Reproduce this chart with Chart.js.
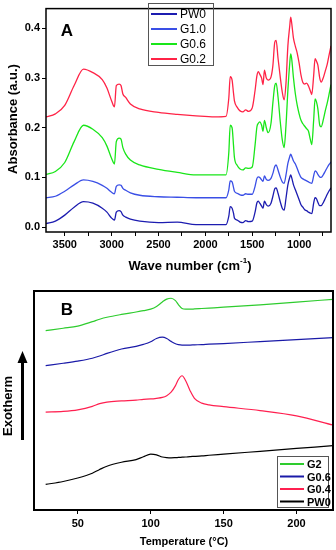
<!DOCTYPE html>
<html>
<head>
  <meta charset="UTF-8" />
  <title>FTIR and DSC</title>
  <script src="https://cdn.jsdelivr.net/npm/chart.js"></script>
  <style>
    body { margin: 0; background: #fff; width: 336px; height: 550px; overflow: hidden; position: relative; }
    .panel { position: absolute; left: 0; width: 336px; }
  </style>
</head>
<body>
  <div class="panel" style="top:0"><canvas id="ftir" width="336" height="275"></canvas></div>
  <div class="panel" style="top:275px"><canvas id="dsc" width="336" height="275"></canvas></div>

  <script>
    // ---- panel A : FTIR ----
    const waveNumbers = [3700, 3600, 3500, 3400, 3300, 3200, 3100, 3050, 3000, 2970,
      2950, 2920, 2900, 2880, 2850, 2800, 2700, 2500, 2300, 2100,
      1900, 1780, 1750, 1735, 1715, 1700, 1690, 1660, 1630, 1600,
      1570, 1540, 1500, 1470, 1450, 1435, 1420, 1400, 1385, 1370,
      1350, 1330, 1300, 1280, 1260, 1245, 1225, 1200, 1180, 1160,
      1140, 1120, 1100, 1090, 1080, 1060, 1040, 1020, 1000, 980,
      960, 940, 920, 900, 880, 865, 845, 830, 815, 800,
      780, 765, 740, 720, 700, 680, 660];

    const absPW0 = [0.007, 0.012, 0.024, 0.040, 0.051, 0.048, 0.038, 0.030, 0.018, 0.014,
      0.030, 0.033, 0.031, 0.024, 0.020, 0.016, 0.012, 0.009, 0.010, 0.005,
      0.005, 0.005, 0.022, 0.041, 0.038, 0.028, 0.018, 0.014, 0.010, 0.009,
      0.013, 0.011, 0.012, 0.030, 0.049, 0.052, 0.048, 0.042, 0.038, 0.052,
      0.045, 0.042, 0.048, 0.062, 0.077, 0.079, 0.068, 0.050, 0.038, 0.034,
      0.058, 0.085, 0.100, 0.105, 0.100, 0.085, 0.075, 0.065, 0.055, 0.045,
      0.040, 0.035, 0.033, 0.030, 0.028, 0.027, 0.048, 0.059, 0.057, 0.050,
      0.043, 0.043, 0.050, 0.058, 0.066, 0.073, 0.079];

    const absG10 = [0.059, 0.062, 0.072, 0.085, 0.095, 0.092, 0.084, 0.078, 0.070, 0.067,
      0.082, 0.085, 0.084, 0.078, 0.074, 0.069, 0.064, 0.061, 0.060, 0.059,
      0.059, 0.059, 0.075, 0.093, 0.091, 0.080, 0.072, 0.068, 0.065, 0.064,
      0.067, 0.066, 0.066, 0.082, 0.098, 0.101, 0.100, 0.095, 0.092, 0.103,
      0.096, 0.094, 0.098, 0.108, 0.122, 0.125, 0.115, 0.100, 0.091, 0.088,
      0.105, 0.128, 0.142, 0.147, 0.143, 0.133, 0.127, 0.118, 0.108, 0.100,
      0.097, 0.095, 0.093, 0.091, 0.089, 0.088, 0.103, 0.113, 0.111, 0.106,
      0.101, 0.100, 0.106, 0.113, 0.120, 0.126, 0.131];

    const absG06 = [0.106, 0.112, 0.130, 0.172, 0.205, 0.197, 0.180, 0.163, 0.138, 0.127,
      0.172, 0.179, 0.177, 0.160, 0.147, 0.135, 0.125, 0.116, 0.110, 0.105,
      0.105, 0.105, 0.150, 0.205, 0.200, 0.165, 0.140, 0.124, 0.117, 0.115,
      0.119, 0.118, 0.121, 0.165, 0.202, 0.209, 0.212, 0.205, 0.193, 0.215,
      0.200, 0.190, 0.209, 0.250, 0.285, 0.290, 0.262, 0.210, 0.176, 0.160,
      0.205, 0.275, 0.330, 0.349, 0.340, 0.300, 0.268, 0.245, 0.228, 0.215,
      0.208, 0.203, 0.198, 0.193, 0.176, 0.166, 0.215, 0.258, 0.252, 0.238,
      0.205, 0.202, 0.218, 0.235, 0.250, 0.268, 0.287];

    const absG02 = [0.222, 0.228, 0.245, 0.285, 0.318, 0.311, 0.297, 0.280, 0.254, 0.242,
      0.285, 0.288, 0.285, 0.268, 0.261, 0.248, 0.238, 0.231, 0.227, 0.224,
      0.222, 0.223, 0.260, 0.303, 0.296, 0.270, 0.254, 0.241, 0.234, 0.232,
      0.236, 0.233, 0.240, 0.275, 0.305, 0.313, 0.308, 0.300, 0.287, 0.316,
      0.300, 0.296, 0.302, 0.325, 0.372, 0.376, 0.340, 0.300, 0.272, 0.256,
      0.290, 0.365, 0.405, 0.423, 0.412, 0.380, 0.364, 0.350, 0.330, 0.306,
      0.291, 0.288, 0.290, 0.284, 0.274, 0.267, 0.305, 0.339, 0.334, 0.326,
      0.300, 0.292, 0.302, 0.315, 0.328, 0.347, 0.365];

    const waveTicks = [3500, 3250, 3000, 2750, 2500, 2250, 2000, 1750, 1500, 1250, 1000, 750];
    const absTicks = [0, 0.1, 0.2, 0.3, 0.4];

    // ---- panel B : DSC ----
    const temps = [28, 40, 50, 60, 65, 70, 80, 90, 95, 100,
      104, 108, 111, 114, 117, 119, 121.5, 124, 127, 130,
      135, 140, 150, 175, 200, 225];
    const dscG2 = [81.9, 83.0, 84.0, 86.0, 87.1, 88.0, 89.3, 90.4, 91.0, 91.7,
      92.9, 95.0, 96.3, 96.7, 95.6, 93.8, 92.0, 91.7, 91.7, 91.8,
      92.0, 92.2, 92.6, 93.7, 94.9, 96.2];
    const dscG06 = [65.9, 67.0, 68.0, 69.3, 70.3, 71.5, 73.5, 74.7, 75.6, 76.8,
      78.3, 78.9, 78.3, 77.0, 75.9, 75.5, 75.3, 75.3, 75.3, 75.4,
      75.5, 75.7, 76.0, 76.9, 77.8, 78.7];
    const dscG04 = [44.7, 45.0, 45.7, 47.3, 48.6, 49.3, 49.8, 50.2, 50.5, 50.7,
      51.0, 51.4, 52.2, 53.8, 56.8, 59.6, 61.3, 59.0, 54.5, 51.0,
      48.8, 48.0, 47.2, 45.4, 43.0, 38.8];
    const dscPW0 = [11.7, 13.0, 14.6, 16.8, 18.5, 20.0, 21.8, 23.0, 24.3, 25.5,
      25.2, 24.2, 23.9, 23.8, 23.9, 24.0, 24.1, 24.2, 24.4, 24.5,
      24.7, 25.0, 25.5, 26.8, 28.1, 29.4];
    const tempTicks = [50, 100, 150, 200];

    const FONT = '"Liberation Sans", Arial, sans-serif';
    const tickFont = { family: FONT, size: 11, weight: 'bold' };

    const pts = (xs, ys) => xs.map((x, i) => ({ x: x, y: ys[i] }));
    const line = (label, xs, ys, color, width) => ({
      label: label, data: pts(xs, ys), borderColor: color, backgroundColor: color,
      borderWidth: width, pointRadius: 0, fill: false, cubicInterpolationMode: 'monotone'
    });

    // frame, panel letter, legend box and axis titles
    const decor = {
      id: 'decor',
      afterDraw(chart, args, o) {
        const ctx = chart.ctx, a = chart.chartArea;
        ctx.save();
        ctx.strokeStyle = '#000';
        ctx.lineWidth = o.frameWidth;
        ctx.strokeRect(a.left, a.top, a.right - a.left, a.bottom - a.top);

        ctx.fillStyle = '#000';
        ctx.font = 'bold 17px ' + FONT;
        ctx.textAlign = 'center';
        ctx.textBaseline = 'middle';
        ctx.fillText(o.letter, o.letterX, o.letterY);

        // legend
        const L = o.legend;
        ctx.lineWidth = 1;
        ctx.strokeStyle = '#555';
        ctx.strokeRect(L.x + 0.5, L.y + 0.5, L.w, L.h);
        ctx.font = L.font;
        ctx.textAlign = 'left';
        chart.data.datasets.slice().sort((p, q) => L.order.indexOf(p.label) - L.order.indexOf(q.label))
          .forEach((ds, i) => {
            const y = L.y + L.first + i * L.step;
            ctx.strokeStyle = ds.borderColor;
            ctx.lineWidth = 2;
            ctx.beginPath();
            ctx.moveTo(L.x + 3, y);
            ctx.lineTo(L.x + 3 + L.lineLen, y);
            ctx.stroke();
            ctx.fillStyle = '#000';
            ctx.fillText(ds.label, L.x + 6 + L.lineLen, y + 1);
          });
        if (o.extra) o.extra(ctx, a);
        ctx.restore();
      }
    };

    Chart.register(decor);

    new Chart(document.getElementById('ftir'), {
      type: 'line',
      data: {
        datasets: [
          line('PW0', waveNumbers, absPW0, '#1c1cb0', 1.3),
          line('G1.0', waveNumbers, absG10, '#3a4fe6', 1.3),
          line('G0.6', waveNumbers, absG06, '#19e619', 1.3),
          line('G0.2', waveNumbers, absG02, '#ff2346', 1.3)
        ]
      },
      options: {
        responsive: false, animation: false, devicePixelRatio: 1,
        layout: { padding: { left: 0, right: 5, top: 2, bottom: 0 } },
        plugins: {
          legend: { display: false }, tooltip: { enabled: false },
          decor: {
            frameWidth: 1.5, letter: 'A', letterX: 67, letterY: 31,
            legend: { x: 148, y: 3, w: 65, h: 62, first: 11, step: 15, lineLen: 26,
              font: '12px ' + FONT, order: ['PW0', 'G1.0', 'G0.6', 'G0.2'] },
            extra(ctx, a) {
              ctx.fillStyle = '#000';
              ctx.textBaseline = 'middle';
              ctx.font = 'bold 13px ' + FONT;
              const t1 = 'Wave number (cm', t2 = ')';
              ctx.font = 'bold 13px ' + FONT;
              const w1 = ctx.measureText(t1).width;
              ctx.font = 'bold 8px ' + FONT;
              const ws = ctx.measureText('-1').width;
              ctx.font = 'bold 13px ' + FONT;
              const w2 = ctx.measureText(t2).width;
              let x = 190 - (w1 + ws + w2) / 2;
              ctx.textAlign = 'left';
              ctx.fillText(t1, x, 266);
              ctx.font = 'bold 8px ' + FONT;
              ctx.fillText('-1', x + w1, 261);
              ctx.font = 'bold 13px ' + FONT;
              ctx.fillText(t2, x + w1 + ws, 266);

              ctx.save();
              ctx.translate(13, 119);
              ctx.rotate(-Math.PI / 2);
              ctx.textAlign = 'center';
              ctx.fillText('Absorbance (a.u.)', 0, 0);
              ctx.restore();
            }
          }
        },
        scales: {
          x: {
            type: 'linear', reverse: true, min: 660, max: 3700,
            afterBuildTicks: s => { s.ticks = waveTicks.map(v => ({ value: v })); },
            afterFit: s => { s.height = 43; },
            border: { display: false },
            grid: { drawOnChartArea: false, drawTicks: true, tickLength: 4, color: '#000', lineWidth: 1 },
            ticks: { callback: v => (v % 500 === 0 ? String(v) : ''), font: tickFont, color: '#000',
              padding: 2, maxRotation: 0, autoSkip: false }
          },
          y: {
            min: -0.01, max: 0.44,
            afterBuildTicks: s => { s.ticks = absTicks.map(v => ({ value: v })); },
            afterFit: s => { s.width = 46; },
            border: { display: false },
            grid: { drawOnChartArea: false, drawTicks: true, tickLength: 4, color: '#000', lineWidth: 1 },
            ticks: { callback: v => v.toFixed(1), font: tickFont, color: '#000', padding: 2 }
          }
        }
      }
    });

    new Chart(document.getElementById('dsc'), {
      type: 'line',
      data: {
        datasets: [
          line('PW0', temps, dscPW0, '#000000', 1.2),
          line('G0.4', temps, dscG04, '#ff2050', 1.2),
          line('G0.6', temps, dscG06, '#1a1aa8', 1.2),
          line('G2', temps, dscG2, '#2ecc2e', 1.2)
        ]
      },
      options: {
        responsive: false, animation: false, devicePixelRatio: 1,
        layout: { padding: { left: 34, right: 3, top: 16, bottom: 0 } },
        plugins: {
          legend: { display: false }, tooltip: { enabled: false },
          decor: {
            frameWidth: 2, letter: 'B', letterX: 67, letterY: 35,
            legend: { x: 277, y: 181, w: 51, h: 51, first: 8, step: 12.5, lineLen: 24,
              font: 'bold 11px ' + FONT, order: ['G2', 'G0.6', 'G0.4', 'PW0'] },
            extra(ctx, a) {
              ctx.fillStyle = '#000';
              ctx.textBaseline = 'middle';
              ctx.textAlign = 'center';
              ctx.font = 'bold 11px ' + FONT;
              ctx.fillText('Temperature (\u00B0C)', 184, 267);

              // exotherm arrow
              ctx.strokeStyle = '#000';
              ctx.lineWidth = 3;
              ctx.beginPath();
              ctx.moveTo(22.5, 165);
              ctx.lineTo(22.5, 86);
              ctx.stroke();
              ctx.beginPath();
              ctx.moveTo(22.5, 76);
              ctx.lineTo(17.5, 88);
              ctx.lineTo(27.5, 88);
              ctx.closePath();
              ctx.fill();

              ctx.save();
              ctx.translate(8, 131);
              ctx.rotate(-Math.PI / 2);
              ctx.font = 'bold 13px ' + FONT;
              ctx.fillText('Exotherm', 0, 0);
              ctx.restore();
            }
          }
        },
        scales: {
          x: {
            type: 'linear', min: 20, max: 225,
            afterBuildTicks: s => { s.ticks = tempTicks.map(v => ({ value: v })); },
            afterFit: s => { s.height = 40; },
            border: { display: false },
            grid: { drawOnChartArea: false, drawTicks: true, tickLength: 4, color: '#000', lineWidth: 1 },
            ticks: { font: tickFont, color: '#000', padding: 3, maxRotation: 0, autoSkip: false }
          },
          y: { display: false, min: 0, max: 100 }
        }
      }
    });
  </script>
</body>
</html>
